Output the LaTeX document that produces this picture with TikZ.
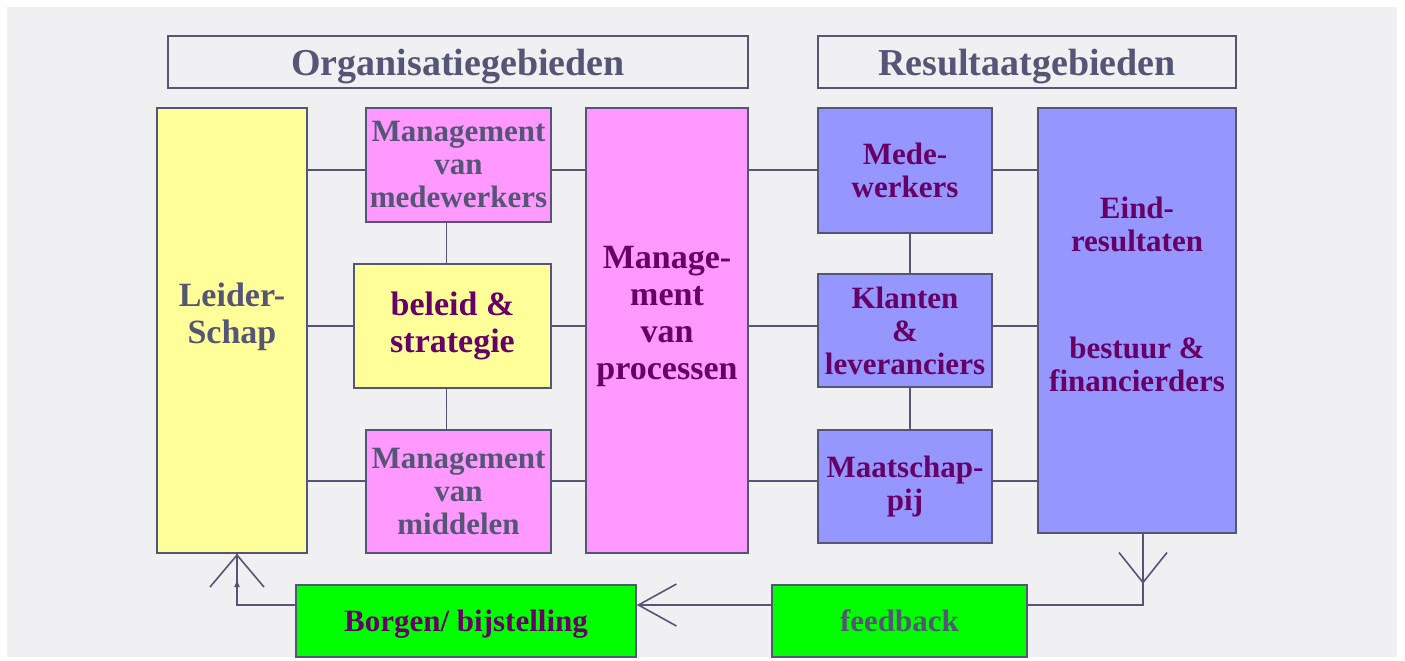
\documentclass[tikz,border=0pt]{standalone}
\usepackage{fontspec}
\setmainfont{Liberation Serif}
\usetikzlibrary{arrows.meta}
\definecolor{bgpaper}{RGB}{240,240,242}
\definecolor{edge}{RGB}{85,85,117}
\definecolor{slate}{RGB}{85,85,117}
\definecolor{plum}{RGB}{102,0,102}
\definecolor{lemon}{RGB}{255,255,153}
\definecolor{orchid}{RGB}{255,153,255}
\definecolor{lilac}{RGB}{150,150,255}
\definecolor{signal}{RGB}{0,255,0}
\begin{document}
\begin{tikzpicture}[x=1pt, y=-1pt,
	box/.style={draw=edge, line width=1.6pt, inner sep=0pt, align=center,
		font=\bfseries\fontsize{31}{33}\selectfont},
	hdr/.style={box, line width=1.3pt, text depth=0pt, font=\bfseries\fontsize{38}{40}\selectfont, text=slate},
	big/.style={align=center, inner sep=0pt, font=\bfseries\fontsize{34}{37}\selectfont},
	link/.style={draw=edge, line width=1.6pt}]
	\useasboundingbox (0,0) rectangle (1405,661);
	\fill[bgpaper] (7,7) rectangle (1397,657);
	\node[hdr, minimum width=580pt, minimum height=52pt] (orghdr) at (458,62) {Organisatiegebieden};
	\node[hdr, minimum width=418pt, minimum height=52pt] (reshdr) at (1027,62) {Resultaatgebieden};
	\node[box, fill=lemon, minimum width=150pt, minimum height=445pt] (leider) at (232,330.5) {};
	\node[big, text=slate] (leidertxt) at ([yshift=14pt]leider.center) {Leider-\\Schap};
	\node[box, fill=orchid, text=slate, minimum width=185pt, minimum height=114pt] (mmw) at (458.5,165) {Management\\van\\medewerkers};
	\node[box, big, draw=edge, line width=1.6pt, fill=lemon, text=plum, minimum width=197pt, minimum height=124pt] (bel) at (452.5,326) {beleid \&\\strategie};
	\node[box, fill=orchid, text=slate, minimum width=185pt, minimum height=123pt] (mid) at (458.5,491.5) {Management\\van\\middelen};
	\node[box, fill=orchid, minimum width=162pt, minimum height=445pt] (proc) at (667,330.5) {};
	\node[big, text=plum] (proctxt) at ([yshift=14pt]proc.center) {Manage-\\ment\\van\\processen};
	\node[box, fill=lilac, text=plum, minimum width=174pt, minimum height=125pt] (mdw) at (905,170.5) {Mede-\\werkers};
	\node[box, fill=lilac, text=plum, minimum width=174pt, minimum height=113pt] (kla) at (905,330.5) {Klanten\\\&\\leveranciers};
	\node[box, fill=lilac, text=plum, minimum width=174pt, minimum height=113pt] (maat) at (905,486.5) {Maatschap-\\pij};
	\node[box, fill=lilac, minimum width=198pt, minimum height=425pt] (eind) at (1137,320.5) {};
	\node[box, draw=none, text=plum] (eindtxt) at ([yshift=26pt]eind.center) {Eind-\\resultaten\\[74pt]bestuur \&\\financierders};
	\node[box, text depth=0pt, fill=signal, text=plum, minimum width=340pt, minimum height=72pt] (borg) at (466,621) {Borgen/ bijstelling};
	\node[box, text depth=0pt, fill=signal, text=slate, minimum width=255pt, minimum height=72pt] (fb) at (899.5,621) {feedback};
	\coordinate (rowa) at (0,170);
	\coordinate (rowb) at (0,326);
	\coordinate (rowc) at (0,481);
	\coordinate (loop) at (0,605);
	\draw[link] (leider.east |- rowa) -- (mmw.west |- rowa);
	\draw[link] (mmw.east |- rowa) -- (proc.west |- rowa);
	\draw[link] (proc.east |- rowa) -- (mdw.west |- rowa);
	\draw[link] (mdw.east |- rowa) -- (eind.west |- rowa);
	\draw[link] (leider.east |- rowb) -- (bel.west |- rowb);
	\draw[link] (bel.east |- rowb) -- (proc.west |- rowb);
	\draw[link] (proc.east |- rowb) -- (kla.west |- rowb);
	\draw[link] (kla.east |- rowb) -- (eind.west |- rowb);
	\draw[link] (leider.east |- rowc) -- (mid.west |- rowc);
	\draw[link] (mid.east |- rowc) -- (proc.west |- rowc);
	\draw[link] (proc.east |- rowc) -- (maat.west |- rowc);
	\draw[link] (maat.east |- rowc) -- (eind.west |- rowc);
	\draw[link] ([xshift=-6pt]bel.north) -- ([xshift=-6pt]bel.north |- mmw.south);
	\draw[link] ([xshift=-6pt]bel.south) -- ([xshift=-6pt]bel.south |- mid.north);
	\draw[link] ([xshift=5pt]kla.north) -- ([xshift=5pt]kla.north |- mdw.south);
	\draw[link] ([xshift=5pt]kla.south) -- ([xshift=5pt]kla.south |- maat.north);
	\draw[link] ([xshift=6pt]eind.south) -- ([xshift=6pt]eind.south |- loop) -- (fb.east |- loop);
	\draw[link, -{Straight Barb[length=30pt, width=48pt]}] ([xshift=6pt]eind.south) -- ++(0,50);
	\draw[link, -{Straight Barb[length=38pt, width=42pt]}] (fb.west |- loop) -- (borg.east |- loop);
	\draw[link] (borg.west |- loop) -- ([xshift=5pt]leider.south |- loop) -- ([xshift=5pt]leider.south);
	\draw[link, -{Straight Barb[length=32pt, width=54pt]}] ([xshift=5pt]leider.south |- loop) -- ([xshift=5pt]leider.south);
	\draw[link, -{Latex[length=8pt, width=6pt]}] ([xshift=5pt]leider.south |- loop) -- ++(0,-26);
\end{tikzpicture}
\end{document}
